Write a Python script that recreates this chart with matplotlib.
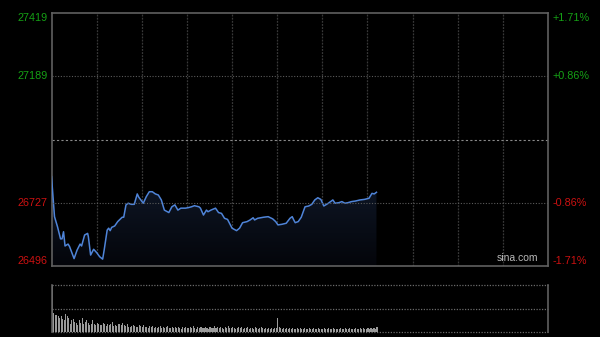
import matplotlib
matplotlib.use("Agg")
import matplotlib.pyplot as plt
import numpy as np
from matplotlib.colors import LinearSegmentedColormap

# ---- data ----
minutes = [0, 2, 4, 6, 7, 8, 9, 11, 12, 15, 17, 19, 20, 22, 24, 24.5, 26, 28, 30, 32, 34, 35,
           37, 38, 39, 40, 42, 44, 47, 48, 49.5, 51, 53, 55, 57, 58, 61, 63, 65, 67, 69, 71,
           73, 75, 78, 80, 82, 84, 86, 89, 91, 93, 95, 98, 99, 101, 103, 104, 106, 109, 111,
           113, 115, 117, 120, 123, 125, 127, 130, 132, 134, 135, 137, 141, 144, 147, 149,
           150.5, 153, 156, 158.5, 160, 161, 162, 164, 166, 168.5, 171, 173, 175, 177, 179,
           181, 184, 187, 188.5, 191, 193, 195, 197, 199.5, 202, 205, 208, 211, 213, 214.5, 216]
prices = [26822, 26676, 26639, 26595, 26595, 26621, 26569, 26576, 26567, 26523, 26554, 26576,
          26569, 26609, 26615, 26603, 26536, 26557, 26545, 26530, 26521, 26554, 26627, 26634,
          26625, 26637, 26642, 26658, 26674, 26674, 26719, 26725, 26721, 26721, 26759, 26747,
          26725, 26749, 26767, 26767, 26759, 26755, 26737, 26700, 26691, 26712, 26719, 26700,
          26707, 26707, 26709, 26712, 26716, 26712, 26707, 26682, 26700, 26694, 26700, 26707,
          26691, 26688, 26670, 26666, 26634, 26625, 26634, 26654, 26658, 26664, 26672, 26664,
          26670, 26674, 26676, 26668, 26658, 26646, 26648, 26652, 26670, 26676, 26664, 26654,
          26658, 26674, 26712, 26715, 26721, 26737, 26745, 26739, 26715, 26725, 26737, 26725,
          26727, 26731, 26725, 26727, 26731, 26733, 26737, 26739, 26743, 26761, 26759, 26765]

volumes = [100,
           40, 37, 36, 33, 30, 35, 28, 26, 38, 33,
           30, 18, 25, 28, 22, 19, 15, 26, 20, 30,
           16, 22, 25, 20, 14, 18, 25, 17, 15, 19,
           18, 15, 14, 20, 16, 12, 17, 14, 18, 22,
           13, 15, 12, 18, 16, 14, 19, 15, 12, 17,
           11, 10, 13, 14, 12, 11, 10, 15, 12, 10,
           14, 11, 10, 9, 12, 10, 13, 9, 11, 8,
           10, 12, 9, 11, 8, 10, 13, 9, 8, 10,
           9, 11, 8, 10, 9, 7, 11, 9, 10, 8,
           9, 10, 8, 12, 9, 7, 10, 8, 11, 9,
           8, 10, 9, 7, 11, 8, 9, 12, 8, 10,
           9, 11, 8, 7, 10, 9, 13, 8, 9, 10,
           8, 7, 9, 11, 8, 10, 7, 9, 8, 10,
           7, 9, 8, 6, 10, 8, 7, 9, 11, 8,
           7, 8, 6, 9, 7, 8, 6, 8, 9,
           30,
           10, 8, 7, 9, 6, 8, 7, 9, 6, 8,
           7, 6, 8, 7, 9, 6, 7, 8, 6, 7,
           8, 6, 7, 9, 6, 7, 8, 6, 7, 6,
           8, 7, 6, 9, 7, 6, 8, 7, 6, 7,
           6, 8, 7, 6, 9, 7, 6, 8, 7, 6,
           7, 8, 6, 7, 9, 6, 8, 7, 6, 8,
           7, 9, 6, 8, 7, 10]

left_labels = ["27419", "27189", "26727", "26496"]
right_labels = ["+1.71%", "+0.86%", "-0.86%", "-1.71%"]
y_low, y_high = 26496, 27419
prev_close = (y_low + y_high) / 2
total_minutes = 330

# ---- figure ----
fig = plt.figure(figsize=(6.0, 3.37), dpi=100, facecolor="black")
ax = fig.add_axes([51.5 / 600, 1 - 266 / 337, 496.5 / 600, 253 / 337], facecolor="black")
axv = fig.add_axes([51.5 / 600, 1 - 332 / 337, 496.5 / 600, 47 / 337], facecolor="black")

ax.set_xlim(0, total_minutes)
ax.set_ylim(y_low, y_high)

# grid
for m in range(30, total_minutes, 30):
    ax.axvline(m, color="#383838", lw=0.9, ls=(0, (1.5, 1)), zorder=1)
q = (y_high - y_low) / 4
for v in [y_high - q, y_low + q]:
    ax.axhline(v, color="#5a5a5a", lw=0.8, ls=(0, (1, 1.5)), zorder=4)
ax.axhline(prev_close, color="#8a8a8a", lw=0.8, ls=(0, (2, 2)), zorder=1)

# gradient fill under the line
poly = ax.fill_between(minutes, prices, y_low, color="none", lw=0, zorder=2)
cmap = LinearSegmentedColormap.from_list("g", ["#04050a", "#0f1828"])
grad = np.linspace(0, 1, 256).reshape(-1, 1)
top = max(prices)
img = ax.imshow(grad, extent=[0, total_minutes, y_low, top], origin="lower", cmap=cmap,
                aspect="auto", zorder=2)
img.set_clip_path(poly.get_paths()[0], transform=ax.transData)
ax.set_xlim(0, total_minutes)
ax.set_ylim(y_low, y_high)

ax.plot(minutes, prices, color="#4f84d8", lw=1.1, zorder=3)

for s in ax.spines.values():
    s.set_color("#606060")
    s.set_linewidth(1.2)
ax.set_xticks([])
ax.set_yticks([])

tick_vals = [y_high, y_high - q, y_low + q, y_low]
vas = ["top", "center", "center", "bottom"]
colors = ["#15a015", "#15a015", "#cc1111", "#cc1111"]
for val, lab, rlab, va, c in zip(tick_vals, left_labels, right_labels, vas, colors):
    ax.text(-0.008, val, lab, transform=ax.get_yaxis_transform(), ha="right", va=va,
            color=c, fontsize=7.8, family="Liberation Sans")
    ax.text(1.01, val, rlab, transform=ax.get_yaxis_transform(), ha="left", va=va,
            color=c, fontsize=7.8, family="Liberation Sans")

ax.text(0.98, 0.01, "sina.com", transform=ax.transAxes, ha="right", va="bottom",
        color="#b8b8b8", fontsize=7.5, family="Liberation Sans")

# volume
axv.set_xlim(0, total_minutes)
vmax = max(volumes)
axv.set_ylim(0, vmax)
axv.bar(range(len(volumes)), volumes, width=0.7, color="#9a9a9a", align="edge", lw=0, zorder=2)
for v in [vmax, vmax / 2, 0]:
    axv.axhline(v, color="#6a6a6a", lw=0.9, ls=(0, (1, 1.2)), zorder=1, clip_on=False)
for side in ["top", "bottom"]:
    axv.spines[side].set_visible(False)
for side in ["left", "right"]:
    axv.spines[side].set_color("#606060")
    axv.spines[side].set_linewidth(1.2)
axv.set_xticks([])
axv.set_yticks([])

fig.savefig("out.png", dpi=100, facecolor="black")
